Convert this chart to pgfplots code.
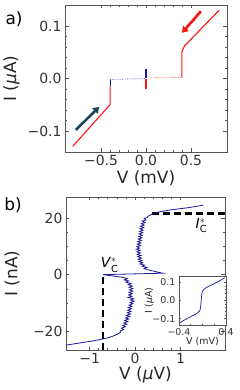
\documentclass[border=0pt]{standalone}
\usepackage{fontspec}
\setmainfont{DejaVu Sans}
\usepackage{amsmath}
\usepackage{pgfplots}
\pgfplotsset{compat=1.18}
\usetikzlibrary{arrows.meta}

\definecolor{cred}{rgb}{0.97,0.08,0.08}
\definecolor{cblue}{rgb}{0.1,0.1,0.6}
\definecolor{carrow}{RGB}{30,70,90}
\definecolor{axgray}{RGB}{85,85,85}

\pgfplotsset{
  mpl/.style={
    scale only axis,
    axis line style={axgray, line width=0.9bp},
    tick align=inside,
    xtick pos=both, ytick pos=both,
    major tick length=3.5bp, minor tick length=2bp,
    every tick/.style={axgray, line width=0.6bp},
    tick label style={font=\fontsize{14}{14}\selectfont, text=black!80},
    label style={font=\fontsize{17}{17}\selectfont, text=black!85},
    clip=true,
  }
}

\begin{document}
\begin{tikzpicture}[x=1bp,y=1bp]
\useasboundingbox (0,0) rectangle (240,390);

% ---------- panel a ----------
\begin{axis}[mpl, at={(65bp,238bp)}, anchor=south west, width=162bp, height=147bp,
  xmin=-0.9, xmax=0.9, ymin=-0.14, ymax=0.14,
  xtick={-0.5,0,0.5}, xticklabels={−0.5,0.0,0.5},
  ytick={-0.1,0,0.1}, yticklabels={−0.1,0.0,0.1},
  minor x tick num=4, minor y tick num=4,
  xlabel={V (mV)}, ylabel={I (\textit{μ}A)},
  xlabel style={at={(axis description cs:0.5,-0.18)}, anchor=center},
  ylabel style={at={(axis description cs:-0.33,0.5)}, anchor=center},
]
\addplot[cred, line width=1.1bp] coordinates {(-0.813,-0.129) (-0.398,-0.0495) (-0.398,-0.015)};
\addplot[cblue, line width=1.1bp] coordinates {(-0.398,-0.015) (-0.398,-0.002)};
\addplot[cblue!70, line width=0.7bp, densely dotted] coordinates {(-0.398,-0.002) (0,0)};
\addplot[cred!70, line width=0.7bp, densely dotted] coordinates {(0,0.001) (0.398,0.002)};
\addplot[cblue, line width=1.1bp] coordinates {(0,0) (0,0.019)};
\addplot[cred, line width=1.1bp] coordinates {(0,-0.001) (0,-0.02)};
\addplot[cred, line width=1.1bp] coordinates {(0.398,0.002) (0.398,0.051) (0.428,0.062) (0.813,0.130)};
\draw[cred, line width=2.6bp, -{Triangle[length=6bp,width=7.5bp]}] (axis cs:0.61,0.128) -- (axis cs:0.40,0.087);
\draw[carrow, line width=2.6bp, -{Triangle[length=6bp,width=7.5bp]}] (axis cs:-0.78,-0.098) -- (axis cs:-0.52,-0.054);
\end{axis}
\node[font=\fontsize{17}{17}\selectfont] at (14,371) {a)};

% ---------- panel b ----------
\begin{axis}[mpl, at={(66bp,40bp)}, anchor=south west, width=159bp, height=153bp,
  xmin=-1.52, xmax=1.98, ymin=-26.5, ymax=27.4,
  xtick={-1,0,1}, xticklabels={−1,0,1},
  ytick={-20,0,20}, yticklabels={−20,0,20},
  minor x tick num=4, minor y tick num=3,
  xlabel={V (\textit{μ}V)}, ylabel={I (nA)},
  xlabel style={at={(axis description cs:0.5,-0.165)}, anchor=center},
  ylabel style={at={(axis description cs:-0.34,0.5)}, anchor=center},
]
\addplot[black, line width=2.2bp, dash pattern=on 7bp off 4bp] coordinates {(0.38,21.6) (1.98,21.6)};
\addplot[black, line width=2.2bp, dash pattern=on 7bp off 4bp] coordinates {(-0.70,-26.5) (-0.70,0)};
% upper branch
\addplot[cblue, line width=0.8bp] coordinates {
(0.27,1.8) (0.20,2.2) (0.26,2.6) (0.16,3.0) (0.21,3.4) (0.11,3.8) (0.17,4.2) (0.09,4.6) (0.15,5.0) (0.07,5.5)
(0.14,5.9) (0.06,6.4) (0.13,6.8) (0.05,7.2) (0.12,7.7) (0.04,8.1) (0.11,8.6) (0.03,9.0) (0.10,9.4) (0.04,9.9)
(0.12,10.3) (0.05,10.8) (0.13,11.2) (0.06,11.7) (0.14,12.1) (0.07,12.6) (0.15,13.0) (0.08,13.5) (0.16,13.9) (0.09,14.4)
(0.17,14.8) (0.10,15.3) (0.18,15.7) (0.11,16.2) (0.19,16.6) (0.12,17.1) (0.20,17.5) (0.14,18.0) (0.22,18.4) (0.16,18.9)
(0.24,19.3) (0.20,19.8) (0.27,20.2) (0.28,20.6) (0.36,21.2) (0.42,21.7) (0.55,22.2) (0.72,22.7) (0.95,23.2) (1.2,23.7) (1.5,24.5)};
% zero region
\addplot[cblue, line width=0.8bp] coordinates {(0.27,1.8) (0.61,0.55) (-0.70,0.05) (-0.27,-0.9)};
% lower branch
\addplot[cblue, line width=0.8bp] coordinates {
(-0.27,-0.9) (-0.17,-1.4) (-0.24,-1.8) (-0.14,-2.2) (-0.20,-2.6) (-0.09,-3.1) (-0.15,-3.5) (-0.06,-4.0) (-0.13,-4.4) (-0.05,-4.9)
(-0.12,-5.3) (-0.05,-5.8) (-0.13,-6.2) (-0.06,-6.7) (-0.14,-7.1) (-0.07,-7.6) (-0.15,-8.0) (-0.03,-8.5) (-0.10,-8.9) (-0.02,-9.3)
(-0.11,-9.8) (-0.05,-10.2) (-0.13,-10.7) (-0.07,-11.1) (-0.15,-11.6) (-0.08,-12.0) (-0.16,-12.5) (-0.09,-12.9) (-0.17,-13.4) (-0.10,-13.8)
(-0.19,-14.3) (-0.12,-14.7) (-0.21,-15.2) (-0.14,-15.6) (-0.23,-16.1) (-0.16,-16.5) (-0.25,-17.0) (-0.18,-17.4) (-0.27,-17.9) (-0.21,-18.3)
(-0.30,-18.8) (-0.25,-19.3) (-0.33,-19.8) (-0.32,-20.3) (-0.40,-21.0) (-0.50,-21.7) (-0.62,-22.3) (-0.80,-22.9) (-1.0,-23.5) (-1.25,-24.1) (-1.52,-24.8)};
\node[font=\fontsize{14}{14}\selectfont] at (axis cs:1.46,17.3) {\textit{I}$_{\text{C}}^{*}$};
\node[font=\fontsize{14}{14}\selectfont] at (axis cs:-0.56,3.4) {\textit{V}$_{\text{C}}^{*}$};
\end{axis}
\node[font=\fontsize{17}{17}\selectfont] at (13,185) {b)};

% ---------- inset ----------
\begin{axis}[mpl, at={(179bp,65bp)}, anchor=south west, width=47bp, height=49bp,
  axis background/.style={fill=white},
  axis line style={axgray, line width=0.6bp},
  major tick length=2bp, minor tick length=1.2bp,
  xmin=-0.4, xmax=0.4, ymin=-0.135, ymax=0.135,
  xtick={-0.4,0.4}, xticklabels={−0.4,0.4},
  ytick={-0.1,0,0.1}, yticklabels={−0.1,0.0,0.1},
  minor x tick num=3, minor y tick num=4,
  tick label style={font=\fontsize{9.5}{9.5}\selectfont, text=black!80},
  label style={font=\fontsize{9.5}{9.5}\selectfont, text=black!85},
  xlabel={V (mV)}, ylabel={I (\textit{μ}A)},
  xlabel style={at={(axis description cs:0.5,-0.33)}, anchor=center},
  ylabel style={at={(axis description cs:-0.63,0.5)}, anchor=center},
]
\addplot[cblue, line width=0.7bp, smooth] coordinates {
(-0.38,-0.122) (-0.3,-0.106) (-0.2,-0.089) (-0.1,-0.072) (-0.05,-0.058) (-0.032,-0.035) (-0.022,0) (-0.012,0.033)
(0.005,0.055) (0.06,0.07) (0.15,0.085) (0.25,0.101) (0.33,0.116) (0.38,0.126)};
\end{axis}
\end{tikzpicture}
\end{document}
